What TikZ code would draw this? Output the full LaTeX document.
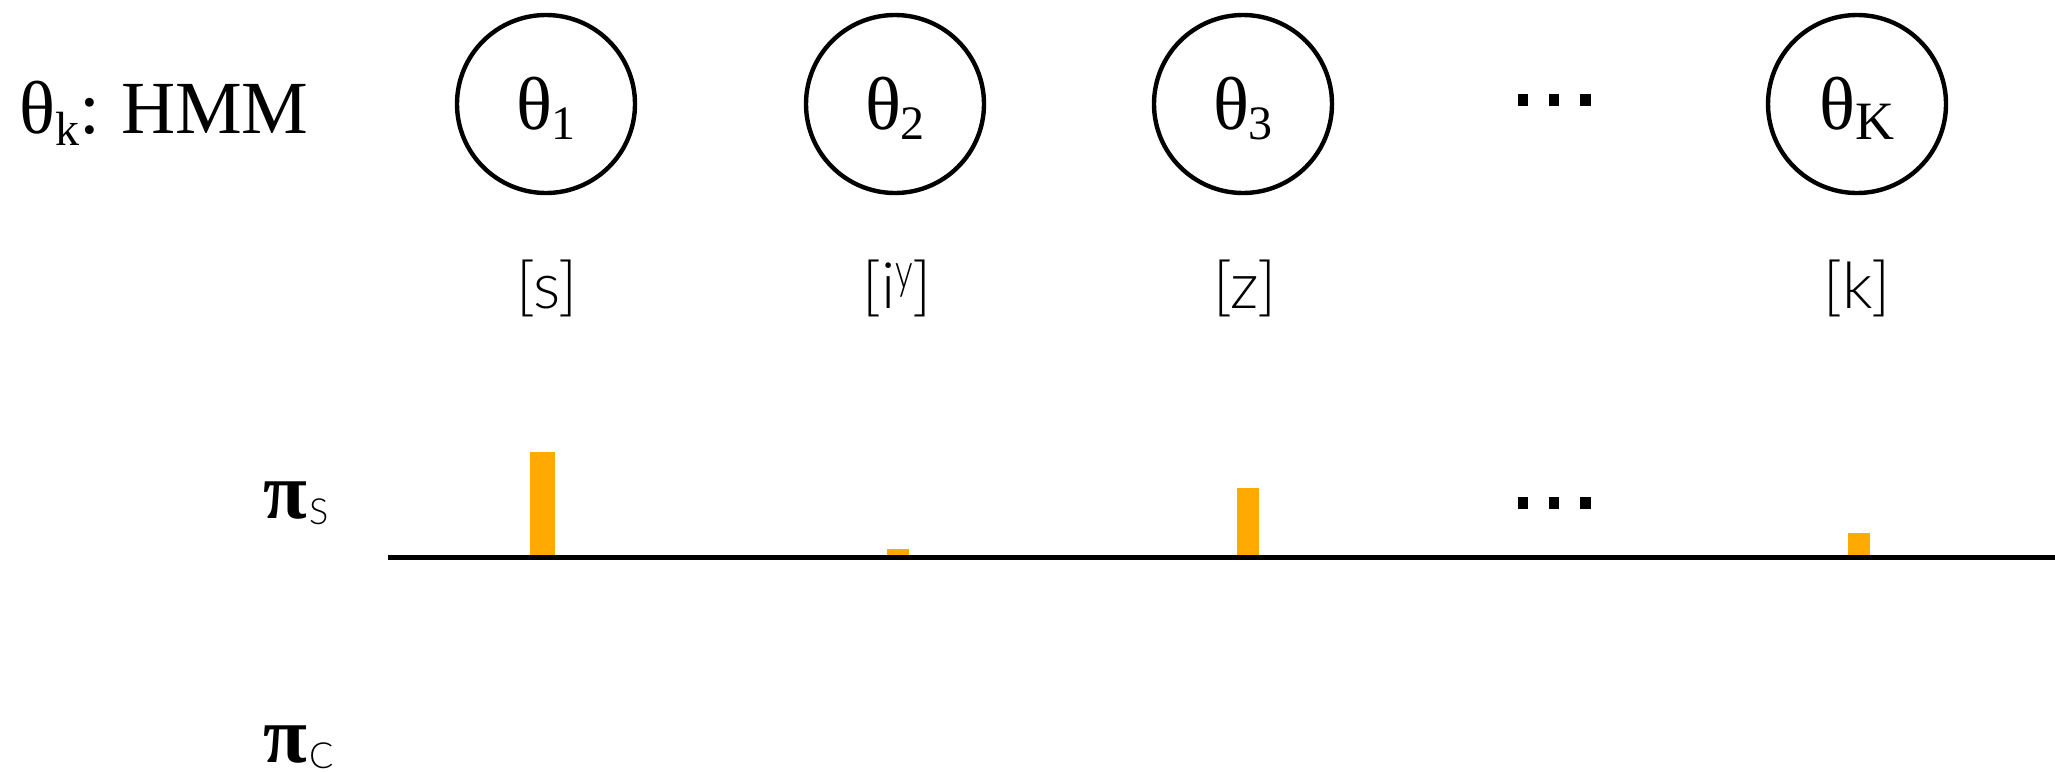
\documentclass[tikz,border=0pt]{standalone}
\usepackage{fontspec}
\usepackage{graphicx}
\setmainfont{Liberation Serif}
\IfFontExistsTF{Lato Light}{\newfontfamily\phon{Lato Light}}{\newfontfamily\phon{Lato}}
\definecolor{barorange}{RGB}{255,170,0}
\tikzset{
  hmm/.style={circle, draw, line width=2.2pt, minimum size=89pt, inner sep=0pt, font=\fontsize{37.5}{40}\selectfont},
  phonlabel/.style={inner sep=0pt, font=\phon\fontsize{32}{36}\selectfont},
  txt/.style={inner sep=0pt, anchor=base west},
  bigserif/.style={font=\fontsize{37.5}{40}\selectfont},
  pilabel/.style={font=\bfseries\fontsize{40}{44}\selectfont},
  bar/.style={fill=barorange, draw=none},
  dotsq/.style={fill=black, draw=none},
  axisline/.style={line width=2.5pt},
}
\newcommand{\thsub}[2]{θ\smash{\raisebox{-5pt}{\fontsize{#2}{#2}\selectfont #1}}}
\newcommand{\pisub}[1]{π\hspace{1pt}\raisebox{-3pt}{\phon\mdseries\fontsize{18}{18}\selectfont #1}}
\begin{document}
\begin{tikzpicture}[x=0.5pt,y=-0.5pt]
\useasboundingbox (0,0) rectangle (2055,772);
% title
\node[txt, bigserif] (title) at (19,133) {θ\raisebox{-6pt}{\fontsize{24}{24}\selectfont k}:\hspace{-2pt} HMM};
% HMM circles
\node[hmm] (t1) at (546,104) {\thsub{1}{24}};
\node[hmm] (t2) at (895,104) {\thsub{2}{24}};
\node[hmm] (t3) at (1243,104) {\thsub{3}{24}};
\node[hmm] (tK) at (1857,104) {\thsub{K}{27}};
% ellipsis top
\path[dotsq] (1518,94) rectangle (1528,106);
\path[dotsq] (1549,94) rectangle (1559,106);
\path[dotsq] (1580,94) rectangle (1591,106);
% phone labels
\node[phonlabel] (p1) at (547,288) {[s]};
\node[phonlabel] (p2) at (897,288) {[i\raisebox{10pt}{\fontsize{25}{25}\selectfont\scalebox{0.7}[1]{y}}]};
\node[phonlabel] (p3) at (1245,288) {[z]};
\node[phonlabel] (pK) at (1857,288) {[k]};
% pi labels
\node[txt, pilabel] (piS) at (263,518) {\pisub{S}};
\node[txt, pilabel] (piC) at (263,762) {\pisub{C}};
% bars
\path[bar] (530,452) rectangle (555,557);
\path[bar] (887,549) rectangle (909,557);
\path[bar] (1237,488) rectangle (1259,557);
\path[bar] (1848,533) rectangle (1870,557);
% axis
\coordinate (axL) at (388,557);
\coordinate (axR) at (2055,557);
\draw[axisline] (axL) -- (axR);
% ellipsis lower
\path[dotsq] (1518,497) rectangle (1528,509);
\path[dotsq] (1549,497) rectangle (1559,509);
\path[dotsq] (1580,497) rectangle (1591,509);
\end{tikzpicture}
\end{document}
